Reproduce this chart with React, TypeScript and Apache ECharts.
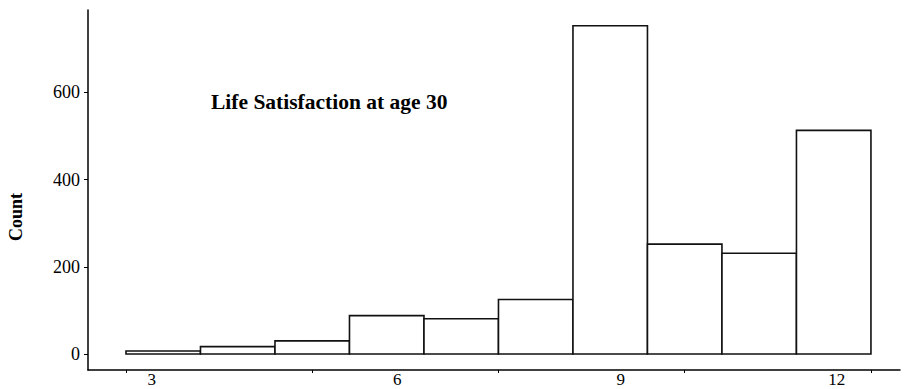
import React, { useEffect, useRef } from "react";
import * as echarts from "echarts";

// Histogram bins (index of bin along the axis) and counts
const binIndex = [0, 1, 2, 3, 4, 5, 6, 7, 8, 9];
const counts = [7, 17, 30, 88, 81, 125, 753, 252, 231, 513];

// Tick labels on the x axis and where they sit (in bin units)
const xTickLabels = ["3", "6", "9", "12"];
const xLabelValues = [0.345, 3.64, 6.64, 9.54];
const xTickValues = [0, 2.5, 5, 7.5, 10];

// y axis ticks
const yTickValues = [0, 200, 400, 600];

const titleText = "Life Satisfaction at age 30";
const yName = "Count";

const FONT = "Liberation Serif, serif";

export default function App() {
  const ref = useRef<HTMLDivElement>(null);
  useEffect(() => {
    if (!ref.current) return;
    const chart = echarts.init(ref.current, null, { renderer: "svg" });
    const data = binIndex.map((b, i) => [b, counts[i]]);
    chart.setOption({
      animation: false,
      backgroundColor: "#fff",
      title: {
        text: titleText,
        left: 211,
        top: 91,
        padding: 0,
        textStyle: { fontFamily: FONT, fontSize: 21.5, fontWeight: "bold", color: "#000" },
      },
      graphic: [
        {
          type: "text",
          x: 16,
          y: 217,
          rotation: Math.PI / 2,
          style: {
            text: yName,
            fontFamily: FONT,
            fontSize: 18,
            fontWeight: "bold",
            fill: "#000",
            align: "center",
            verticalAlign: "middle",
          },
        },
      ],
      grid: { left: 88, right: 6, top: 10, bottom: 19, containLabel: false },
      xAxis: {
        type: "value",
        min: -0.51,
        max: 10.39,
        splitLine: { show: false },
        axisLine: { show: true, onZero: false, lineStyle: { color: "#000", width: 1.5 } },
        axisTick: {
          show: true,
          length: 3,
          customValues: xTickValues,
          lineStyle: { color: "#000", width: 1 },
        },
        axisLabel: {
          customValues: xLabelValues,
          margin: 1,
          fontFamily: FONT,
          fontSize: 17,
          color: "#000",
          formatter: (v: number) => {
            const idx = xLabelValues.findIndex((x) => Math.abs(x - v) < 1e-6);
            return idx >= 0 ? xTickLabels[idx] : "";
          },
        },
      },
      yAxis: {
        type: "value",
        min: -36.7,
        max: 789,
        splitLine: { show: false },
        axisLine: { show: true, onZero: false, lineStyle: { color: "#000", width: 1.5 } },
        axisTick: {
          show: true,
          length: 4,
          customValues: yTickValues,
          lineStyle: { color: "#000", width: 1 },
        },
        axisLabel: {
          customValues: yTickValues,
          margin: 8,
          fontFamily: FONT,
          fontSize: 18,
          color: "#000",
        },
      },
      series: [
        {
          type: "custom",
          data,
          encode: { x: 0, y: 1 },
          renderItem: (params: any, api: any) => {
            const i = api.value(0);
            const v = api.value(1);
            const p0 = api.coord([i, 0]);
            const p1 = api.coord([i + 1, v]);
            return {
              type: "rect",
              shape: { x: p0[0], y: p1[1], width: p1[0] - p0[0], height: p0[1] - p1[1] },
              style: { fill: "#fff", stroke: "#111", lineWidth: 1.6 },
            };
          },
        },
      ],
    });
    return () => chart.dispose();
  }, []);
  return (
    <div
      ref={ref}
      style={{ width: 906, height: 389, position: "absolute", left: 0, top: 0 }}
    />
  );
}
